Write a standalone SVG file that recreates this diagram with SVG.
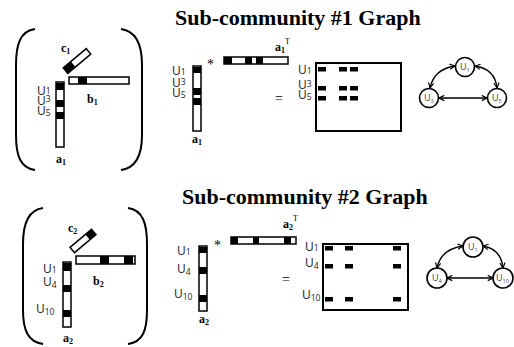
<svg xmlns="http://www.w3.org/2000/svg" width="514" height="347" viewBox="0 0 514 347">
<defs>
<style>
.title{font-family:"Liberation Serif",serif;font-weight:bold;font-size:22px;fill:#000}
.lb{font-family:"Liberation Serif",serif;font-weight:bold;font-size:12px;fill:#000}
.lbs{font-size:8px}
.sup{font-weight:normal;font-size:8px}
.u{font-family:"Open Sans","Liberation Sans",sans-serif;font-size:12px;fill:#222}
.us{font-size:8.5px}
.gn{font-family:"Open Sans","Liberation Sans",sans-serif;font-size:9px;fill:#444}
.gns{font-size:5.5px}
.bar{fill:#fff;stroke:#000;stroke-width:1.5}
.blk{fill:#000}
.brk{fill:none;stroke:#000;stroke-width:2}
.box{fill:#fff;stroke:#000;stroke-width:2}
.node{fill:#fff;stroke:#000;stroke-width:1.6}
.edge{fill:none;stroke:#000;stroke-width:1.4;marker-start:url(#ah);marker-end:url(#ah)}
.op{font-family:"Liberation Serif",serif;font-size:14px;fill:#000}
</style>
<marker id="ah" viewBox="0 0 8 8" refX="7" refY="4" markerWidth="7" markerHeight="7" markerUnits="userSpaceOnUse" orient="auto-start-reverse">
<path d="M1,1 L7,4 L1,7" fill="none" stroke="#000" stroke-width="1.3"/>
</marker>
</defs>

<text class="title" x="175" y="25">Sub-community #1 Graph</text>
<text class="title" x="182" y="204">Sub-community #2 Graph</text>

<!-- Panel 1 tensor -->
<g id="tensor1">
<path class="brk" d="M35,29 C20,31 16,45 16,65 L16,135 C16,155 20,168 35,170"/>
<path class="brk" d="M121,29 C136,31 142,45 142,65 L142,135 C142,155 136,168 121,170"/>
<g transform="translate(77,61) rotate(-40)">
<rect class="bar" x="-15" y="-3.5" width="30" height="7"/>
<rect class="blk" x="-15" y="-3.5" width="10" height="7"/>
</g>
<text class="lb" x="61" y="52">c<tspan class="lbs" dy="2">1</tspan></text>
<rect class="bar" x="69" y="77" width="60" height="7"/>
<rect class="blk" x="78" y="77" width="9" height="7"/>
<text class="lb" x="87" y="103">b<tspan class="lbs" dy="2">1</tspan></text>
<rect class="bar" x="56" y="82" width="8" height="65"/>
<rect class="blk" x="56" y="83" width="8" height="7"/>
<rect class="blk" x="56" y="100" width="8" height="7"/>
<rect class="blk" x="56" y="112" width="8" height="7"/>
<text class="u" x="37" y="95">U<tspan class="us" dy="-1">1</tspan></text>
<text class="u" x="37" y="105">U<tspan class="us" dy="-3">3</tspan></text>
<text class="u" x="37" y="115">U<tspan class="us" dy="1">5</tspan></text>
<text class="lb" x="56" y="163">a<tspan class="lbs" dy="2">1</tspan></text>
</g>

<!-- Panel 1 product -->
<g id="product1">
<rect class="bar" x="193" y="66" width="8" height="65"/>
<rect class="blk" x="193" y="67" width="8" height="6"/>
<rect class="blk" x="193" y="88" width="8" height="7"/>
<rect class="blk" x="193" y="98" width="8" height="7"/>
<text class="u" x="172" y="75">U<tspan class="us" dy="0">1</tspan></text>
<text class="u" x="172" y="87">U<tspan class="us" dy="-2">3</tspan></text>
<text class="u" x="172" y="97">U<tspan class="us" dy="1">5</tspan></text>
<text class="lb" x="192" y="143">a<tspan class="lbs" dy="2">1</tspan></text>
<text class="op" x="207" y="69">*</text>
<rect class="bar" x="224" y="57" width="64" height="7"/>
<rect class="blk" x="224" y="57" width="8" height="7"/>
<rect class="blk" x="245" y="57" width="7" height="7"/>
<rect class="blk" x="256" y="57" width="7" height="7"/>
<text class="lb" x="275" y="51">a<tspan class="lbs" dy="2">1</tspan><tspan class="sup" dy="-9">T</tspan></text>
<text class="op" x="275" y="103">=</text>
</g>

<g id="matrix1">
<rect class="box" x="316" y="63" width="85" height="68"/>
<rect class="blk" x="318" y="67" width="8" height="4.5"/>
<rect class="blk" x="339" y="67" width="8" height="4.5"/>
<rect class="blk" x="350" y="67" width="8" height="4.5"/>
<rect class="blk" x="318" y="86" width="8" height="4.5"/>
<rect class="blk" x="339" y="86" width="8" height="4.5"/>
<rect class="blk" x="350" y="86" width="8" height="4.5"/>
<rect class="blk" x="318" y="96" width="8" height="4.5"/>
<rect class="blk" x="339" y="96" width="8" height="4.5"/>
<rect class="blk" x="350" y="96" width="8" height="4.5"/>
<text class="u" x="298" y="74">U<tspan class="us" dy="0">1</tspan></text>
<text class="u" x="298" y="89">U<tspan class="us" dy="-2">3</tspan></text>
<text class="u" x="298" y="99">U<tspan class="us" dy="1">5</tspan></text>
</g>

<!-- Graph 1 -->
<g id="connectors1">
<path class="edge" d="M430,88 Q434,69 455,66"/>
<path class="edge" d="M475,66 Q495,69 497,88"/>
<path class="edge" d="M439,98 L487,98"/>
</g>
<g id="g1-u1"><circle class="node" cx="465" cy="67" r="9.5"/><text class="gn" x="460" y="70">U<tspan class="gns" dy="2">1</tspan></text></g>
<g id="g1-u3"><circle class="node" cx="429" cy="98" r="9.5"/><text class="gn" x="424" y="101">U<tspan class="gns" dy="2">3</tspan></text></g>
<g id="g1-u5"><circle class="node" cx="497" cy="98" r="9.5"/><text class="gn" x="492" y="101">U<tspan class="gns" dy="2">5</tspan></text></g>

<!-- Panel 2 tensor -->
<g id="tensor2">
<path class="brk" d="M43,208 C28,210 23,224 23,244 L23,310 C23,330 28,342 43,344"/>
<path class="brk" d="M128,208 C143,210 147,224 147,244 L147,310 C147,330 143,342 128,344"/>
<g transform="translate(83,241) rotate(-40)">
<rect class="bar" x="-14" y="-3.5" width="28" height="7"/>
<rect class="blk" x="6" y="-3.5" width="8" height="7"/>
</g>
<text class="lb" x="68" y="232">c<tspan class="lbs" dy="2">2</tspan></text>
<rect class="bar" x="76" y="256" width="59" height="8"/>
<rect class="blk" x="100" y="256" width="9" height="8"/>
<rect class="blk" x="124" y="256" width="9" height="8"/>
<text class="lb" x="93" y="285">b<tspan class="lbs" dy="2">2</tspan></text>
<rect class="bar" x="63" y="262" width="8" height="65"/>
<rect class="blk" x="63" y="263" width="8" height="8"/>
<rect class="blk" x="63" y="285" width="8" height="7"/>
<rect class="blk" x="63" y="310" width="8" height="7"/>
<text class="u" x="43" y="273">U<tspan class="us" dy="0">1</tspan></text>
<text class="u" x="43" y="286">U<tspan class="us" dy="2">4</tspan></text>
<text class="u" x="36" y="313">U<tspan class="us" dy="2">10</tspan></text>
<text class="lb" x="63" y="342">a<tspan class="lbs" dy="2">2</tspan></text>
</g>

<!-- Panel 2 product -->
<g id="product2">
<rect class="bar" x="199" y="246" width="8" height="65"/>
<rect class="blk" x="199" y="247" width="8" height="6"/>
<rect class="blk" x="199" y="267" width="8" height="7"/>
<rect class="blk" x="199" y="295" width="8" height="7"/>
<text class="u" x="177" y="255">U<tspan class="us" dy="0">1</tspan></text>
<text class="u" x="177" y="273">U<tspan class="us" dy="2">4</tspan></text>
<text class="u" x="174" y="298">U<tspan class="us" dy="2">10</tspan></text>
<text class="lb" x="199" y="323">a<tspan class="lbs" dy="2">2</tspan></text>
<text class="op" x="214" y="250">*</text>
<rect class="bar" x="231" y="237" width="65" height="7"/>
<rect class="blk" x="231" y="237" width="7" height="7"/>
<rect class="blk" x="253" y="237" width="6" height="7"/>
<rect class="blk" x="284" y="237" width="7" height="7"/>
<text class="lb" x="283" y="228">a<tspan class="lbs" dy="2">2</tspan><tspan class="sup" dy="-9">T</tspan></text>
<text class="op" x="282" y="284">=</text>
</g>

<g id="matrix2">
<rect class="box" x="323" y="244" width="85" height="66"/>
<rect class="blk" x="325" y="246" width="8" height="4.5"/>
<rect class="blk" x="345" y="246" width="8" height="4.5"/>
<rect class="blk" x="393" y="246" width="8" height="4.5"/>
<rect class="blk" x="325" y="264" width="8" height="4.5"/>
<rect class="blk" x="345" y="264" width="8" height="4.5"/>
<rect class="blk" x="393" y="264" width="8" height="4.5"/>
<rect class="blk" x="325" y="297" width="8" height="4.5"/>
<rect class="blk" x="345" y="297" width="8" height="4.5"/>
<rect class="blk" x="393" y="297" width="8" height="4.5"/>
<text class="u" x="305" y="251">U<tspan class="us" dy="0">1</tspan></text>
<text class="u" x="305" y="267">U<tspan class="us" dy="2">4</tspan></text>
<text class="u" x="302" y="299">U<tspan class="us" dy="2">10</tspan></text>
</g>

<!-- Graph 2 -->
<g id="connectors2">
<path class="edge" d="M437,268 Q441,249 463,246"/>
<path class="edge" d="M483,246 Q501,249 503,268"/>
<path class="edge" d="M447,278 L493,278"/>
</g>
<g id="g2-u1"><circle class="node" cx="473" cy="247" r="10"/><text class="gn" x="468" y="250">U<tspan class="gns" dy="2">1</tspan></text></g>
<g id="g2-u4"><circle class="node" cx="437" cy="278" r="10"/><text class="gn" x="432" y="281">U<tspan class="gns" dy="2">4</tspan></text></g>
<g id="g2-u10"><circle class="node" cx="503" cy="278" r="10"/><text class="gn" x="496" y="281">U<tspan class="gns" dy="2">10</tspan></text></g>
</svg>
